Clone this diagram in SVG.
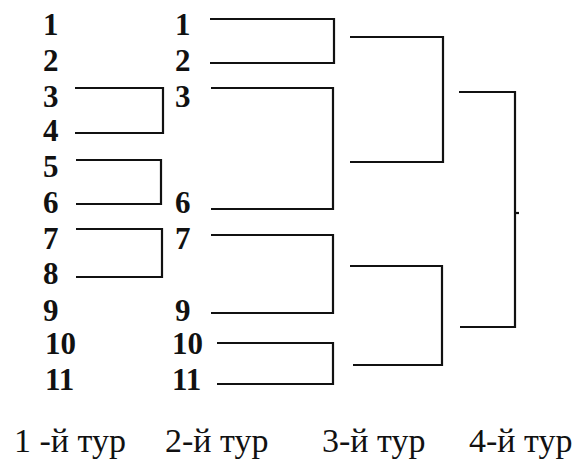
<svg xmlns="http://www.w3.org/2000/svg" width="585" height="463" viewBox="0 0 585 463">
<style>
.n{font-family:"Liberation Serif","Times New Roman",serif;font-weight:bold;font-size:31px;fill:#111}
.l{font-family:"Liberation Serif","Times New Roman",serif;font-size:34px;fill:#111}
.c{fill:none;stroke:#111;stroke-width:2.2;stroke-linejoin:miter}
</style>
<rect width="585" height="463" fill="#fff"/>
<g id="round1">
<g id="r1-1"><text class="n" x="43" y="35">1</text></g>
<g id="r1-2"><text class="n" x="43" y="71">2</text></g>
<g id="r1-3"><text class="n" x="43" y="107">3</text></g>
<g id="r1-4"><text class="n" x="43" y="141">4</text></g>
<g id="r1-5"><text class="n" x="43" y="177">5</text></g>
<g id="r1-6"><text class="n" x="43" y="213">6</text></g>
<g id="r1-7"><text class="n" x="43" y="249">7</text></g>
<g id="r1-8"><text class="n" x="43" y="284">8</text></g>
<g id="r1-9"><text class="n" x="43" y="321">9</text></g>
<g id="r1-10"><text class="n" x="45" y="354">10</text></g>
<g id="r1-11"><text class="n" x="45" y="390">11</text></g>
</g>
<g id="round2">
<g id="r2-1"><text class="n" x="175" y="35">1</text></g>
<g id="r2-2"><text class="n" x="175" y="71">2</text></g>
<g id="r2-3"><text class="n" x="175" y="107">3</text></g>
<g id="r2-6"><text class="n" x="175" y="213">6</text></g>
<g id="r2-7"><text class="n" x="175" y="249">7</text></g>
<g id="r2-9"><text class="n" x="175" y="321">9</text></g>
<g id="r2-10"><text class="n" x="172" y="354">10</text></g>
<g id="r2-11"><text class="n" x="172" y="390">11</text></g>
</g>
<g id="connectors">
<path class="c" d="M75 88H163V133H75"/>
<path class="c" d="M76 160H161V204H76"/>
<path class="c" d="M76 229H162V277H76"/>
<path class="c" d="M210 19H334V63H210"/>
<path class="c" d="M211 88H333V209H211"/>
<path class="c" d="M211 235H333V313H211"/>
<path class="c" d="M217 343H333V384H217"/>
<path class="c" d="M350 37H443V162H350"/>
<path class="c" d="M350 266H442V365H353"/>
<path class="c" d="M459 92H515V327H460"/>
<path class="c" d="M515 213H519"/>
</g>
<g id="labels">
<g id="t1"><text class="l" x="14" y="452">1 -й тур</text></g>
<g id="t2"><text class="l" x="165" y="452">2-й тур</text></g>
<g id="t3"><text class="l" x="322" y="452">3-й тур</text></g>
<g id="t4"><text class="l" x="469" y="452">4-й тур</text></g>
</g>
</svg>
